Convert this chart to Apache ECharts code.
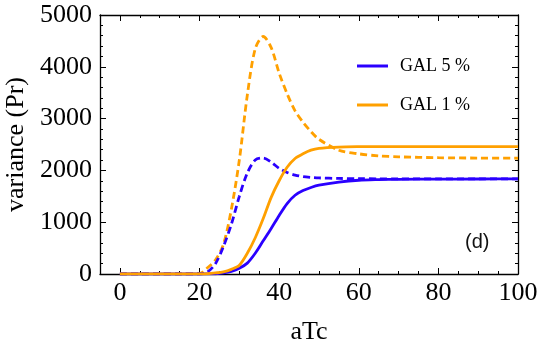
<!DOCTYPE html>
<html>
<head>
<meta charset="utf-8">
<script src="https://cdn.jsdelivr.net/npm/echarts@6/dist/echarts.min.js"></script>
<style>
  html, body { margin: 0; padding: 0; background: #fff; }
  #chart { width: 540px; height: 349px; }
</style>
</head>
<body>
<div id="chart"></div>
<script>
    // aTc grid shared by every curve
    var aTc = [0, 5, 10, 15, 20, 22, 24, 26, 28, 30, 32, 34, 36, 38, 40, 42, 44, 46, 48, 50, 55, 60, 65, 70, 80, 90, 100];
    // solid curves
    var gal5Solid = [0, 0, 0, 0, 0, 2, 5, 20, 50, 110, 210, 400, 640, 880, 1130, 1360, 1520, 1610, 1670, 1715, 1775, 1810, 1822, 1828, 1832, 1834, 1835];
    var gal1Solid = [0, 0, 0, 0, 0, 5, 20, 40, 90, 170, 400, 700, 1070, 1480, 1800, 2060, 2230, 2320, 2390, 2425, 2450, 2458, 2460, 2460, 2460, 2460, 2460];
    // dashed curves
    var gal5Dash = [0, 0, 0, 0, 0, 40, 200, 530, 960, 1500, 1950, 2200, 2240, 2160, 2040, 1960, 1910, 1880, 1865, 1855, 1845, 1840, 1838, 1838, 1838, 1838, 1838];
    var gal1Dash = [0, 0, 0, 0, 10, 120, 270, 570, 1250, 2200, 3450, 4350, 4585, 4370, 3880, 3480, 3150, 2930, 2750, 2600, 2390, 2320, 2280, 2262, 2245, 2238, 2235];

    var xMajor = [0, 20, 40, 60, 80, 100];
    var xMinor = [0, 5, 10, 15, 20, 25, 30, 35, 40, 45, 50, 55, 60, 65, 70, 75, 80, 85, 90, 95, 100];

    var blue = '#2a00ff';
    var orange = '#ffa000';

    function pairs(ys) {
        return aTc.map(function (x, i) { return [x, ys[i]]; });
    }

    var frameLine = { show: true, onZero: false, lineStyle: { color: '#000', width: 1.3 } };
    var labelFont = { color: '#000', fontFamily: 'Liberation Serif', fontSize: 26 };

    function xAx(pos, major, showLabel) {
        return {
            type: 'value', position: pos, min: -5, max: 100,
            axisLine: major ? frameLine : { show: false, onZero: false },
            axisTick: {
                show: true, inside: true, length: major ? 6 : 3,
                customValues: major ? xMajor : xMinor,
                lineStyle: { color: '#000', width: 1 }
            },
            axisLabel: showLabel ? Object.assign({ margin: 6, customValues: xMajor }, labelFont) : { show: false },
            splitLine: { show: false },
            name: showLabel ? 'aTc' : '',
            nameLocation: 'middle',
            nameGap: 45,
            nameTextStyle: labelFont
        };
    }

    function yAx(pos, showLabel) {
        return {
            type: 'value', position: pos, min: 0, max: 5000, interval: 1000,
            axisLine: frameLine,
            axisTick: { show: true, inside: true, length: 6, lineStyle: { color: '#000', width: 1 } },
            minorTick: { show: true, splitNumber: 5, length: 3, lineStyle: { color: '#000', width: 1 } },
            axisLabel: showLabel ? Object.assign({ margin: 8, formatter: function (v) { return String(v); } }, labelFont) : { show: false },
            splitLine: { show: false },
            name: showLabel ? 'variance (Pr)' : '',
            nameLocation: 'middle',
            nameGap: 70,
            nameTextStyle: labelFont
        };
    }

    function line(name, ys, color, dashed) {
        return {
            name: name, type: 'line', smooth: 0.3, showSymbol: false,
            xAxisIndex: 0, yAxisIndex: 0,
            data: pairs(ys),
            lineStyle: { color: color, width: 2.8, type: dashed ? [7, 4] : 'solid' },
            itemStyle: { color: color },
            z: dashed ? 2 : 3
        };
    }

    var option = {
        animation: false,
        backgroundColor: '#fff',
        grid: { left: 100, right: 22, top: 15, bottom: 75, outerBoundsMode: 'none' },
        legend: {
            data: ['GAL 5 %', 'GAL 1 %'],
            orient: 'vertical',
            left: 352, top: 52,
            icon: 'rect',
            itemWidth: 31, itemHeight: 3, itemGap: 21,
            textStyle: { color: '#000', fontFamily: 'Liberation Serif', fontSize: 18, padding: [0, 0, 0, 7] }
        },
        xAxis: [xAx('bottom', true, true), xAx('bottom', false, false), xAx('top', true, false), xAx('top', false, false)],
        yAxis: [yAx('left', true), yAx('right', false)],
        graphic: [{
            type: 'text', left: 465, top: 232,
            style: { text: '(d)', font: '20px "Liberation Sans"', fill: '#111' }
        }],
        series: [
            line('GAL 1 % dashed', gal1Dash, orange, true),
            line('GAL 5 % dashed', gal5Dash, blue, true),
            line('GAL 5 %', gal5Solid, blue, false),
            line('GAL 1 %', gal1Solid, orange, false)
        ]
    };

    var myEchart = echarts.init(document.getElementById('chart'));
    myEchart.setOption(option, true);
</script>
</body>
</html>
